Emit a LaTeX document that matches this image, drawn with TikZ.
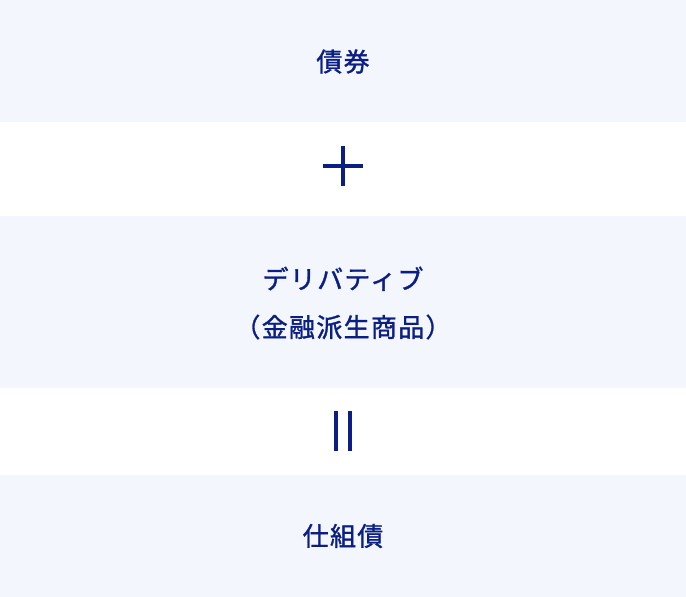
\documentclass[tikz,border=0pt]{standalone}
\usepackage{fontspec}
\newfontfamily\cjk[LetterSpace=5,FakeBold=1.2]{Noto Sans CJK JP}
\definecolor{boxbg}{HTML}{F3F6FD}
\definecolor{navy}{HTML}{0A1E84}
\begin{document}
\begin{tikzpicture}[x=1pt,y=-1pt,
  panel/.style={fill=boxbg,draw=none},
  label/.style={text=navy,font=\cjk\fontsize{26}{48}\selectfont,align=center,inner sep=0pt},
  sym/.style={fill=navy,draw=none}]
\useasboundingbox (0,0) rectangle (686,597);
\fill[white] (0,0) rectangle (686,597);
\path[panel] (0,0) rectangle (686,122);
\path[panel] (0,216) rectangle (686,388);
\path[panel] (0,475) rectangle (686,597);
\node[label] (bond) at (343,61.5) {債券};
\node[label] (deriv) at (343,303) {デリバティブ\\（金融派生商品）};
\node[label] (sb) at (343,536) {仕組債};
% plus sign
\path[sym] (341,146) rectangle (345,186);
\path[sym] (323,164) rectangle (363,168);
\coordinate (plus) at (343,166);
% equals sign (vertical)
\path[sym] (334,411) rectangle (338,451);
\path[sym] (348,411) rectangle (352,451);
\coordinate (eq) at (343,431);
\end{tikzpicture}
\end{document}
